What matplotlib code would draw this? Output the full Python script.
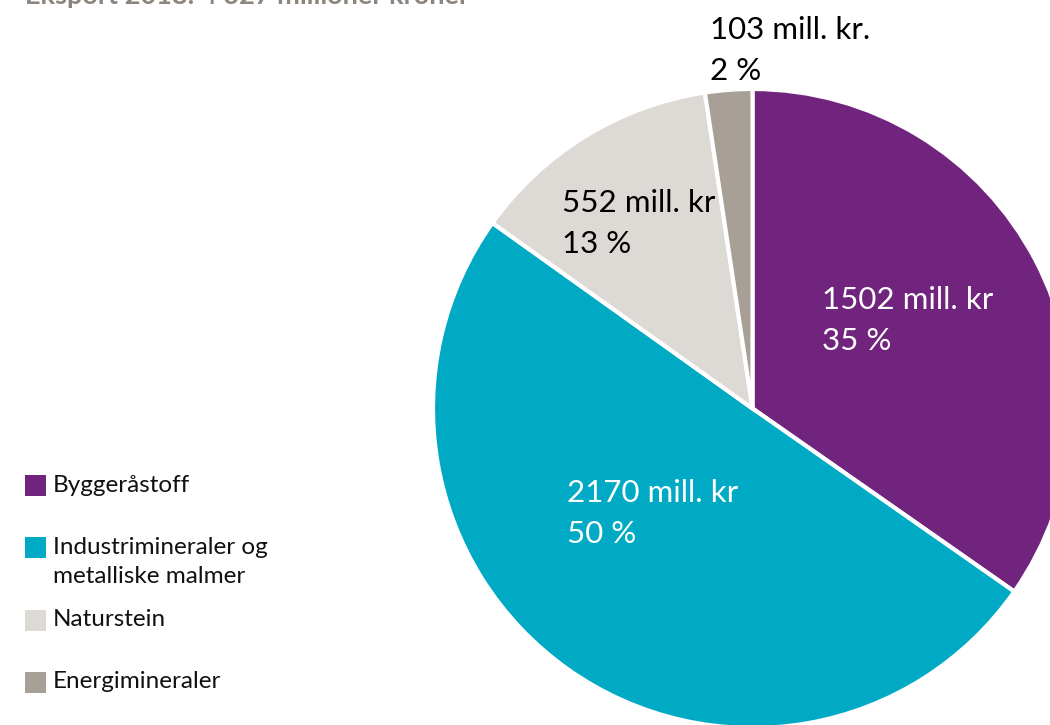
import matplotlib
matplotlib.use("Agg")
import matplotlib.pyplot as plt
from matplotlib.patches import Rectangle

categories = ["Byggeråstoff", "Industrimineraler og\nmetalliske malmer", "Naturstein", "Energimineraler"]
values = [1502, 2170, 552, 103]
percents = [35, 50, 13, 2]
units = ["mill. kr", "mill. kr", "mill. kr", "mill. kr."]
colors = ["#71247E", "#00A9C4", "#DDDAD6", "#A89F96"]
label_colors = ["white", "white", "black", "black"]
title = "Eksport 2018: 4 327 millioner kroner"

W, H = 1050, 725
fig = plt.figure(figsize=(W / 100, H / 100), dpi=100)
ax = fig.add_axes([0, 0, 1, 1])

font = ["Lato", "DejaVu Sans"]

cx, cy, r = 752.5, H - 408.5, 319.5
ax.pie(values, colors=colors, startangle=90, counterclock=False,
       center=(cx, cy), radius=r, frame=True,
       wedgeprops=dict(edgecolor="white", linewidth=3))
ax.set_xlim(0, W)
ax.set_ylim(0, H)
ax.set_aspect("equal")
ax.axis("off")

# value labels (left aligned, line-centre y in pixel coords from top)
label_pos = [(822, 300), (567, 493), (562, 203), (710, 30)]
for v, p, u, c, (x, y) in zip(values, percents, units, label_colors, label_pos):
    ax.text(x, H - y, f"{v} {u}", color=c, fontsize=22.5, family=font, va="center", ha="left")
    ax.text(x, H - y - 41, f"{p} %", color=c, fontsize=22.5, family=font, va="center", ha="left")

# legend
leg_y = [485, 547, 620, 682]
for cat, col, y in zip(categories, colors, leg_y):
    ax.add_patch(Rectangle((25, H - y - 10.5), 21, 21, facecolor=col, edgecolor="none"))
    if "\n" in cat:
        ax.text(53, H - y - 15, cat, fontsize=17.5, family=font, va="center",
                ha="left", color="#111111", linespacing=1.45)
    else:
        ax.text(53, H - y, cat, fontsize=17.5, family=font, va="center",
                ha="left", color="#111111")

# title (cropped at top, as in the reference)
ax.text(25, H - 4, title, fontsize=19.5, family=font, fontweight="bold", color="#8C857E",
        va="baseline", ha="left")

fig.savefig("out.png", dpi=100)
